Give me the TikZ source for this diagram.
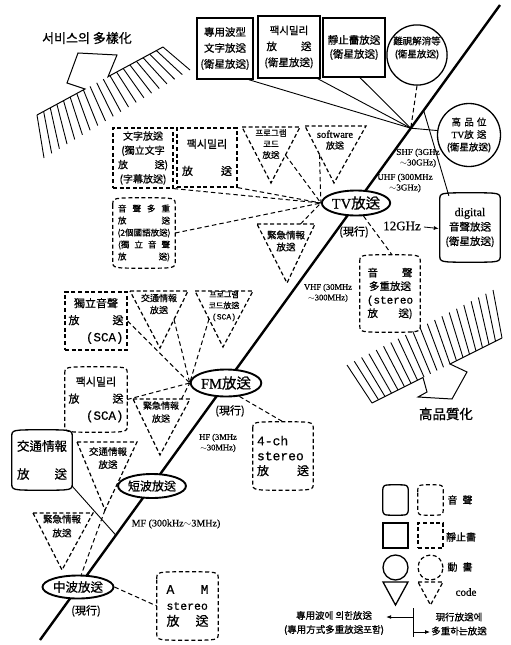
\documentclass[tikz,border=0pt]{standalone}
\usepackage{fontspec}
\setmainfont{Noto Sans CJK KR}[FakeBold=0.7]
\newfontfamily\lat{Liberation Serif}[FakeBold=0.5]
\newfontfamily\monof{Liberation Mono}[FakeBold=0.5]
\usetikzlibrary{calc,arrows.meta,shapes.geometric}
\newcommand\spr[3]{\makebox[#1][s]{#2\hfill#3}}
\newcommand\cylpath[2]{\draw[#2] ($(#1.north west)+(0,7)$) .. controls (#1.north west) .. (#1.north) .. controls (#1.north east) .. ($(#1.north east)+(0,7)$) -- ($(#1.south east)+(0,-7)$) .. controls (#1.south east) .. (#1.south) .. controls (#1.south west) .. ($(#1.south west)+(0,-7)$) -- cycle;}
\newcommand\tricoords[6]{\coordinate (#1-l) at (#2,#4); \coordinate (#1-r) at (#3,#4); \coordinate (#1-a) at (#5,#6);}
\newcommand\tripath[2]{\draw[#2] (#1-l) -- (#1-r) -- (#1-a) -- cycle;}
\begin{document}
\begin{tikzpicture}[x=1pt,y=-1pt,
  sld/.style={line width=1.3pt},
  dsh/.style={line width=1.2pt,dash pattern=on 4pt off 2.6pt},
  conn/.style={line width=0.9pt},
  dconn/.style={line width=1pt,dash pattern=on 4.5pt off 3pt},
  hatch/.style={line width=0.9pt},
  tx/.style={inner sep=0pt,align=center},
  band/.style={ellipse,draw,line width=1.9pt,fill=white,inner sep=0pt},
  freq/.style={inner sep=0pt,align=center},
  arr/.style={line width=0.9pt,-{Latex[length=5pt,width=4pt]}},
]
\fill[white] (0,0) rectangle (511,645);
\useasboundingbox (0,0) rectangle (511,645);

% ---------- hatched arrows ----------
\foreach \i in {0,...,19}{\pgfmathsetmacro\hh{\i/19}
  \draw[hatch] ($(37,115)!\hh!(163,47)$) -- ($(44,158)!\hh!(190,70)$);}
\draw[line width=1pt] (37,115) -- (85,89) -- (67,83) -- (78,53) -- (117,55) -- (108,76.7) -- (163,47);
\foreach \i in {0,...,20}{\pgfmathsetmacro\hh{\i/20}
  \draw[hatch] ($(347,365)!\hh!(493,290)$) -- ($(372,403)!\hh!(502,338)$);}
\draw[line width=1pt] (372,403) -- (423,377.5) -- (427,392) -- (418,397) -- (452,399) -- (467,372) -- (450,364) -- (502,338);
\node[tx,font=\fontsize{13}{13}\selectfont] (svc) at (87,38) {서비스의 多樣化};
\node[tx,font=\fontsize{13.5}{14}\selectfont] (hq) at (446,414) {高品質化};

% ---------- main line ----------
\coordinate (L0) at (40,640); \coordinate (L1) at (500,5);
\draw[line width=2.4pt] (L0) -- (L1);
\coordinate (conv) at ($(L0)!0.806!(L1)$);
\coordinate (dj) at ($(L0)!0.834!(L1)$);
\coordinate (mfj) at ($(L0)!0.165!(L1)$);

\node[band,minimum width=68,minimum height=25,font=\fontsize{14.5}{15}\selectfont] (TV) at (356,203) {{\lat TV}放送};
\node[band,minimum width=69,minimum height=27,font=\fontsize{14.5}{15}\selectfont] (FM) at (226,383) {{\lat FM}放送};
\node[band,minimum width=61,minimum height=24,font=\fontsize{12}{12}\selectfont] (SW) at (152,486) {短波放送};
\node[band,minimum width=71,minimum height=23,font=\fontsize{12.5}{13}\selectfont] (MW) at (78,587) {中波放送};

\node[tx,font=\fontsize{11}{11}\selectfont] (tvnow) at (354,232) {(現行)};
\node[tx,font=\fontsize{11}{11}\selectfont] (fmnow) at (230,411) {(現行)};
\node[tx,font=\fontsize{11}{11}\selectfont] (mwnow) at (86,611) {(現行)};

% ---------- frequency labels ----------
\node[freq,font=\lat\fontsize{9}{10.5}\selectfont] (shf) at (418,158) {SHF (3GHz\\$\sim$30GHz)};
\node[freq,font=\lat\fontsize{9}{10.5}\selectfont] (uhf) at (405,183) {UHF (300MHz\\$\sim$3GHz)};
\node[freq,font=\lat\fontsize{13}{13}\selectfont] (g12) at (402,226) {12GHz};
\node[freq,font=\lat\fontsize{8.5}{10.5}\selectfont] (vhf) at (328,293) {VHF (30MHz\\$\sim$300MHz)};
\node[freq,font=\lat\fontsize{8.5}{10.5}\selectfont] (hf) at (218,443) {HF (3MHz\\$\sim$30MHz)};
\node[freq,font=\lat\fontsize{10}{10}\selectfont] (mf) at (176,524) {MF (300kHz$\sim$3MHz)};

% ---------- satellite (top) ----------
\node[draw,sld,tx,minimum width=56,minimum height=61,font=\fontsize{10.5}{16}\selectfont] (S1) at (225,48.5) {專用波型\\文字放送\\(衛星放送)};
\node[draw,sld,tx,minimum width=62,minimum height=62,font=\fontsize{10.5}{16}\selectfont] (S2) at (289,47) {팩시밀리\\\spr{45pt}{放}{送}\\(衛星放送)};
\node[draw,sld,tx,minimum width=62,minimum height=59,font=\fontsize{10.5}{14}\selectfont] (S3) at (354,47.5) {靜止畵放送\\(衛星放送)};
\node[circle,draw,sld,tx,minimum size=60,font=\fontsize{9.5}{13}\selectfont] (N) at (417,55) {難視解消等\\(衛星放送)\\[3pt]};
\node[circle,draw,sld,tx,minimum size=63,font=\fontsize{9.5}{12.5}\selectfont] (H) at (469,135) {高\,\,品\,\,位\\{\lat TV}放\,\,送\\(衛星放送)};
\node[tx,minimum width=60,minimum height=69,font=\fontsize{10.5}{14.5}\selectfont] (D) at (470,227.5) {{\lat\fontsize{12}{12}\selectfont digital}\\音聲放送\\(衛星放送)};
\cylpath{D}{sld}

\draw[conn] ($(S1.south east)+(-5,0)$) -- (conv);
\draw[conn] ($(S2.south east)+(-3,0)$) -- (conv);
\draw[conn] ($(S3.south)+(6,0)$) -- (conv);
\draw[dconn] (N.south) -- (conv);
\draw[conn] (conv) -- (H.172);
\draw[conn] (dj) -- ($(D.north west)!0.15!(D.north east)+(0,3)$);
\draw[arr,line width=0.8pt] ($(g12.east)+(3,1)$) -- ($(D.west)+(-1,1)$);

% ---------- TV multiplex ----------
\node[draw,dsh,tx,minimum width=60,minimum height=60,font=\fontsize{10}{14.3}\selectfont] (R1) at (143,158) {文字放送\\(獨立文字\\\spr{50pt}{放}{送)}\\(字幕放送)};
\node[draw,dsh,tx,minimum width=60,minimum height=59,font=\fontsize{11}{15}\selectfont] (R2) at (207,157.5) {팩시밀리\\[12pt]\spr{50pt}{放}{送}};
\node[tx,minimum width=62,minimum height=70,font=\fontsize{8.5}{12}\selectfont] (C1) at (144,233) {\makebox[52pt][s]{音\hfill 聲\hfill 多\hfill 重}\\\spr{52pt}{放}{送}\\(2個國語放送)\\\makebox[52pt][s]{(獨\hfill 立\hfill 音\hfill 聲}\\\spr{52pt}{放}{送)}};
\cylpath{C1}{dsh}
\tricoords{T1}{242}{300}{127}{271}{183}
\tripath{T1}{dsh}
\node[tx,font=\fontsize{8.5}{11}\selectfont] (T1) at (271,144) {프로그램\\코드\\放送};
\tricoords{T2}{305}{366}{126}{334}{183}
\tripath{T2}{dsh}
\node[tx,font=\fontsize{9}{11}\selectfont] (T2) at (335,140) {{\lat\fontsize{10.5}{11}\selectfont software}\\放送};
\tricoords{T3}{257}{315}{224}{287}{283}
\tripath{T3}{dsh}
\node[tx,font=\fontsize{9.5}{12}\selectfont] (T3) at (286,241) {緊急情報\\放送};
\node[tx,minimum width=60,minimum height=77,font=\fontsize{10.5}{13.5}\selectfont] (C2) at (390,293.5) {\spr{45pt}{音}{聲}\\多重放送\\{\monof\fontsize{11}{13}\selectfont (stereo}\\\spr{45pt}{放}{送)}};
\cylpath{C2}{dsh}

\draw[dconn] (R1.south east) -- (TV.west);
\draw[dconn] (R2.south east) -- (TV.west);
\draw[dconn] (C1.east) -- (TV.west);
\draw[dconn] ($(T1-r)!0.5!(T1-a)$) -- (TV.west);
\draw[dconn] ($(T2-l)!0.5!(T2-a)$) -- (TV.west);
\draw[dconn] ($(T3-l)!0.75!(T3-r)$) -- (TV.west);
\draw[dconn] (TV.-60) -- ($(C2.north)+(2,0)$);

% ---------- FM multiplex ----------
\node[draw,dsh,tx,minimum width=62,minimum height=58,font=\fontsize{11}{17}\selectfont] (R3) at (96,321) {獨立音聲\\\spr{55pt}{放}{送}\\\makebox[55pt][r]{\monof\fontsize{12.5}{13}\selectfont (SCA)}};
\tricoords{T4}{130}{188}{291}{160}{348}
\tripath{T4}{dsh}
\node[tx,font=\fontsize{9}{12}\selectfont] (T4) at (159,304) {交通情報\\放送};
\tricoords{T5}{195}{253}{291}{223}{347}
\tripath{T5}{dsh}
\node[tx,font=\fontsize{8}{11}\selectfont] (T5) at (224,306) {프로그램\\코드放送\\{\monof (SCA)}};
\node[tx,minimum width=62,minimum height=65,font=\fontsize{11}{17}\selectfont] (C3) at (96,399.5) {팩시밀리\\\spr{55pt}{放}{送}\\\makebox[55pt][r]{\monof\fontsize{12.5}{13}\selectfont (SCA)}};
\cylpath{C3}{dsh}
\tricoords{T6}{133}{190}{399}{160}{455}
\tripath{T6}{dsh}
\node[tx,font=\fontsize{9}{13}\selectfont] (T6) at (161,412) {緊急情報\\放送};
\node[tx,align=left,minimum width=60,minimum height=68,font=\fontsize{12}{15}\selectfont] (C4) at (283,456) {\makebox[52pt][l]{\monof\fontsize{13}{15}\selectfont 4-ch}\\{\monof\fontsize{13}{15}\selectfont stereo}\\\spr{52pt}{放}{送}};
\cylpath{C4}{dsh}

\draw[dconn] (R3.east) -- (FM.west);
\draw[dconn] ($(T4-r)!0.5!(T4-a)$) -- (FM.west);
\draw[dconn] ($(T5-l)!0.5!(T5-a)$) -- (FM.west);
\draw[dconn] (C3.east) -- (FM.west);
\draw[dconn] ($(T6-l)!0.85!(T6-r)$) -- (FM.west);
\draw[dconn] (FM.-45) -- (C4.north);

% ---------- short wave / medium wave ----------
\node[tx,minimum width=60,minimum height=60,font=\fontsize{12.5}{16}\selectfont] (C5) at (42,460) {交通情報\\[12pt]\spr{50pt}{放}{送}};
\cylpath{C5}{sld}
\tricoords{T7}{77}{137}{442}{105}{510}
\tripath{T7}{dsh}
\node[tx,font=\fontsize{9.5}{13}\selectfont] (T7) at (108,458) {交通情報\\放送};
\tricoords{T8}{33}{93}{513}{62}{570}
\tripath{T8}{dsh}
\node[tx,font=\fontsize{9.5}{14}\selectfont] (T8) at (62,526) {緊急情報\\放送};
\node[tx,align=left,minimum width=61,minimum height=68,font=\fontsize{13}{16}\selectfont] (C6) at (187.5,606) {\spr{42pt}{\monof A}{\monof M}\\{\monof\fontsize{11.5}{16}\selectfont stereo}\\\spr{42pt}{放}{送}};
\cylpath{C6}{dsh}

\draw[conn] ($(C5.south east)+(0,-4)$) -- (mfj);
\draw[dconn] (T7-a) -- (MW.75);
\draw[dconn] (MW.east) -- (C6.west);

% ---------- legend ----------
\node[minimum width=25,minimum height=30,inner sep=0pt] (LC1) at (395.5,500) {};
\cylpath{LC1}{sld}
\node[minimum width=25,minimum height=30,inner sep=0pt] (LC2) at (430.5,500) {};
\cylpath{LC2}{dsh}
\node[tx,font=\fontsize{10}{10}\selectfont] (lg1) at (460,500) {音\,\,\,聲};
\node[draw,sld,minimum size=25,inner sep=0pt] (LS1) at (395.5,535.5) {};
\node[draw,dsh,minimum size=25,inner sep=0pt] (LS2) at (430.5,535.5) {};
\node[tx,font=\fontsize{10}{10}\selectfont] (lg2) at (461,537) {靜止畵};
\node[circle,draw,sld,minimum size=25,inner sep=0pt] (LO1) at (395.5,567.5) {};
\node[circle,draw,dsh,minimum size=25,inner sep=0pt] (LO2) at (430.5,567.5) {};
\node[tx,font=\fontsize{10}{10}\selectfont] (lg3) at (460,567) {動\,\,\,畵};
\tricoords{LT1}{383}{408}{582}{395.5}{605}
\tripath{LT1}{sld}
\tricoords{LT2}{418}{443}{582}{430.5}{605}
\tripath{LT2}{dsh}
\node[tx,font=\lat\fontsize{11}{11}\selectfont] (lg4) at (466,592) {code};

\node[tx,font=\fontsize{9.5}{14}\selectfont] (ltxt) at (334,623) {專用波에 의한放送\\(專用方式多重放送포함)};
\node[tx,font=\fontsize{9.5}{14}\selectfont] (rtxt) at (459,624) {現行放送에\\多重하는放送};
\coordinate (tk1) at (413,608); \coordinate (tk2) at (413,637);
\coordinate (tkl) at (413,617); \coordinate (tkr) at (413,632);
\draw[line width=0.9pt] (tk1) -- (tk2);
\draw[arr] (tkl) -- ($(tkl -| ltxt.east)+(2,0)$);
\draw[arr] (tkr) -- ($(tkr -| rtxt.west)+(-1,0)$);
\end{tikzpicture}
\end{document}
